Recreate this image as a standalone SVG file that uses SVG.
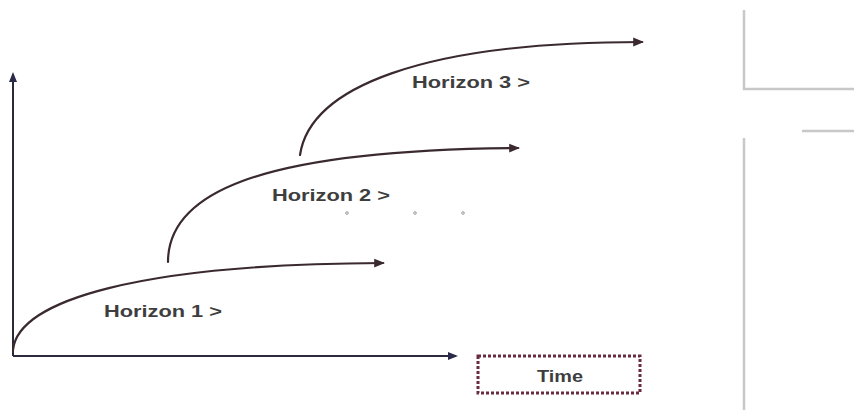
<svg xmlns="http://www.w3.org/2000/svg" width="854" height="415" viewBox="0 0 854 415">
<style>
.axis{fill:none;stroke:#2a2a3a;stroke-width:2}
.curve{fill:none;stroke:#3a2a30;stroke-width:2.2;stroke-linecap:round}
.lbl{font-family:"Liberation Sans",Arial,sans-serif;font-weight:bold;font-size:16px;fill:#3e3e3e}
.frame{fill:none;stroke:#c8c8c8;stroke-width:2.5}
.dot{fill:none;stroke:#999;stroke-width:1}
</style>
<defs>
<marker id="ah" viewBox="0 0 10 10" refX="8" refY="5" markerWidth="5" markerHeight="5" orient="auto">
<path d="M0,1 L10,5 L0,9 Z" fill="#3a2a30"/>
</marker>
<marker id="ax" viewBox="0 0 10 10" refX="8" refY="5" markerWidth="5" markerHeight="5" orient="auto">
<path d="M0,1 L10,5 L0,9 Z" fill="#2a2a4a"/>
</marker>
</defs>
<g id="connectors">
<path class="axis" d="M13,356 L13,74" stroke="#2a2a55" marker-end="url(#ax)"/>
<path class="axis" d="M13,356 L456,356" marker-end="url(#ax)"/>
<path id="c1" class="curve" d="M13,350 C18,300 140,264 383,263" marker-end="url(#ah)"/>
<path id="c2" class="curve" d="M168,262 C168,196 250,150 518,148" marker-end="url(#ah)"/>
<path id="c3" class="curve" d="M300,155 C310,88 420,42 642,42" marker-end="url(#ah)"/>
</g>
<g id="h1"><text class="lbl" x="104" y="317" textLength="118" lengthAdjust="spacingAndGlyphs">Horizon 1 &gt;</text></g>
<g id="h2"><text class="lbl" x="272" y="201" textLength="118" lengthAdjust="spacingAndGlyphs">Horizon 2 &gt;</text></g>
<g id="h3"><text class="lbl" x="412" y="88" textLength="118" lengthAdjust="spacingAndGlyphs">Horizon 3 &gt;</text></g>
<g id="dots">
<circle class="dot" cx="347" cy="213" r="1.3"/>
<circle class="dot" cx="415" cy="213" r="1.3"/>
<circle class="dot" cx="463" cy="213" r="1.3"/>
</g>
<g id="time">
<rect x="478" y="356" width="162" height="37" fill="#fff" stroke="#6a2a40" stroke-width="3" stroke-dasharray="3,2"/>
<text class="lbl" x="537" y="382" textLength="46" lengthAdjust="spacingAndGlyphs">Time</text>
</g>
<g id="frame">
<path class="frame" d="M744,10 L744,89 L854,89"/>
<path class="frame" d="M802,131 L854,131"/>
<path class="frame" d="M744,138 L744,410"/>
</g>
</svg>
